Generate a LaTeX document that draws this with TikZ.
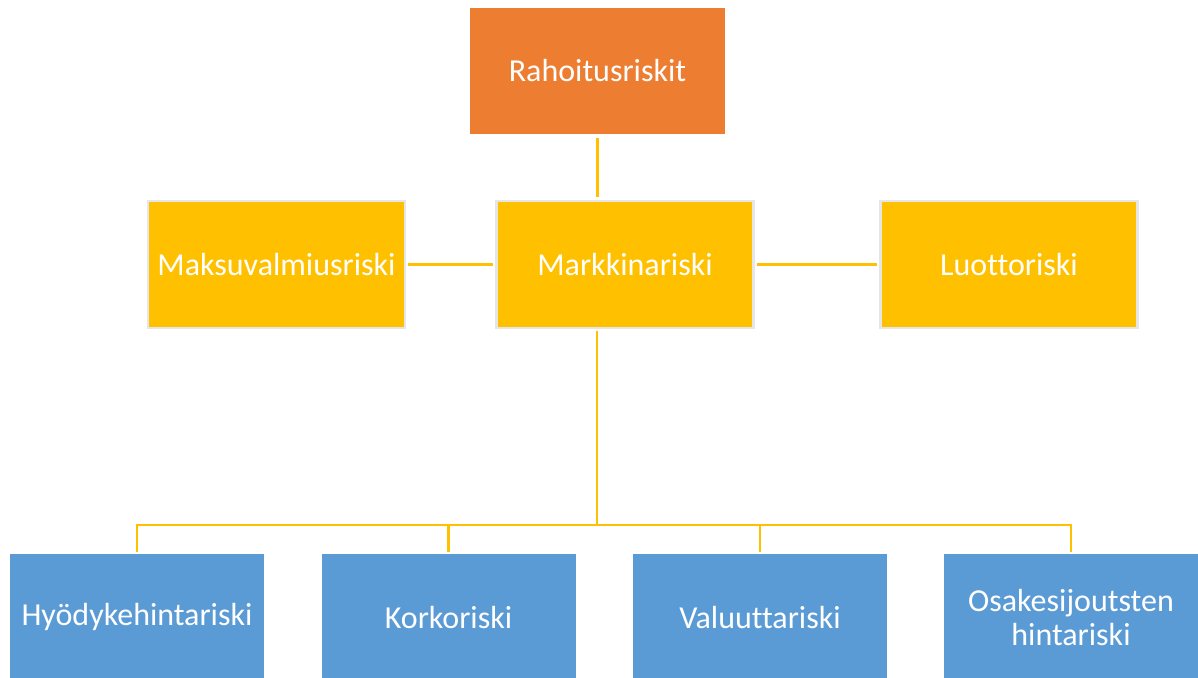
\documentclass[tikz,border=0pt]{standalone}
\usepackage{fontspec}
\setmainfont[Ligatures={NoCommon,TeX}]{Carlito}
\definecolor{orng}{HTML}{ED7D31}
\definecolor{ylw}{HTML}{FFC000}
\definecolor{blu}{HTML}{5B9BD5}
\definecolor{edge}{HTML}{E6E6E6}
\begin{document}
\begin{tikzpicture}[x=1pt,y=-1pt,
  box/.style={rectangle, minimum width=255pt, minimum height=126pt, inner sep=0pt,
    text=white, align=center, font=\fontsize{32}{34}\selectfont},
  obox/.style={box, fill=orng},
  ybox/.style={box, fill=ylw, draw=edge, line width=2.5pt, minimum width=257pt, minimum height=127pt},
  bbox/.style={box, fill=blu, minimum width=254pt},
  link/.style={draw=ylw, line width=2.5pt}]
\useasboundingbox (0,0) rectangle (1198,677);
\clip (0,0) rectangle (1198,677);
\node[obox] (R) at (597.5,71) {Rahoitusriskit};
\node[ybox] (Mak) at (276.5,264.5) {Maksuvalmiusriski};
\node[ybox] (M) at (625,264.5) {Markkinariski};
\node[ybox] (L) at (1009,264.5) {Luottoriski};
\node[bbox] (B1) at (137,617) {Hyödykehintariski};
\node[bbox] (B2) at (448.5,617) {Korkoriski};
\node[bbox] (B3) at (760,617) {Valuuttariski};
\node[bbox] (B4) at (1071,617) {Osakesijoutsten\\hintariski};
\coordinate (bus) at (597,525);
\draw[link, shorten <=4pt, shorten >=3pt] (R.south) -- (M.north -| R.south);
\draw[link, shorten <=2pt, shorten >=2pt] (Mak.east) -- (M.west);
\draw[link, shorten <=2pt, shorten >=2pt] (M.east) -- (L.west);
\draw[link, shorten <=2pt] (M.south -| bus) -- (bus);
\draw[link, line cap=rect] (bus -| B1.north) -- (bus -| B4.north);
\draw[link, shorten >=2pt] (bus -| B1.north) -- (B1.north);
\draw[link, shorten >=2pt] (bus -| B2.north) -- (B2.north);
\draw[link, shorten >=2pt] (bus -| B3.north) -- (B3.north);
\draw[link, shorten >=2pt] (bus -| B4.north) -- (B4.north);
\end{tikzpicture}
\end{document}
